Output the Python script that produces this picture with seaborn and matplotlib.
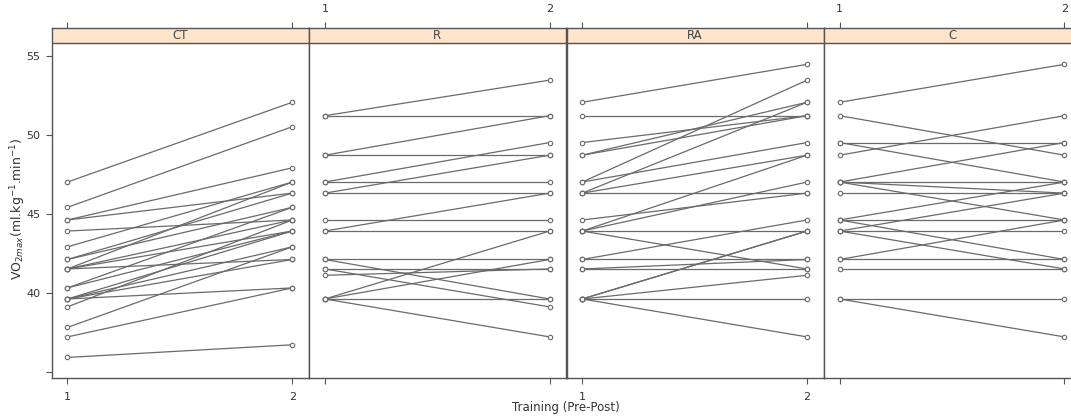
import numpy as np
import pandas as pd
import seaborn as sns
import matplotlib.pyplot as plt

# VO2max values, paired pre/post per subject
groups = ['CT', 'R', 'RA', 'C']

ct_pre = [47.0, 45.4, 44.6, 44.6, 43.9, 42.9, 42.1, 42.1, 41.5, 41.5, 41.5,
          41.5, 40.3, 40.3, 39.6, 39.6, 39.6, 39.6, 39.1, 37.8, 37.2, 35.9]
ct_post = [52.05, 50.5, 47.9, 46.3, 44.6, 47.0, 46.3, 45.4, 47.0, 44.6, 42.1,
           43.9, 45.4, 43.9, 43.9, 42.9, 42.1, 40.3, 44.6, 42.9, 40.3, 36.7]

r_pre = [51.2, 51.2, 48.7, 48.7, 47.0, 47.0, 46.3, 46.3, 44.6, 43.9, 43.9,
         42.1, 42.1, 41.5, 41.5, 41.1, 39.6, 39.6, 39.6, 39.6]
r_post = [53.45, 51.2, 51.2, 48.7, 49.5, 47.0, 48.7, 46.3, 44.6, 46.3, 43.9,
          42.1, 39.6, 41.5, 39.1, 41.5, 43.9, 42.1, 39.6, 37.2]

ra_pre = [52.05, 51.2, 49.5, 48.7, 48.7, 47.0, 47.0, 46.3, 46.3, 46.3, 44.6,
          43.9, 43.9, 43.9, 43.9, 42.1, 42.1, 41.5, 41.5, 39.6, 39.6, 39.6,
          39.6, 39.6]
ra_post = [54.45, 51.2, 51.2, 52.05, 51.2, 53.45, 49.5, 52.05, 48.7, 46.3,
           46.3, 48.7, 47.0, 43.9, 41.5, 44.6, 42.1, 42.1, 41.5, 43.9, 43.9,
           41.1, 39.6, 37.2]

c_pre = [52.05, 51.2, 49.5, 49.5, 48.7, 47.0, 47.0, 47.0, 47.0, 46.3, 44.6,
         44.6, 44.6, 43.9, 43.9, 43.9, 42.1, 42.1, 41.5, 39.6, 39.6]
c_post = [54.45, 48.7, 49.5, 47.0, 51.2, 49.5, 47.0, 46.3, 44.6, 46.3, 47.0,
          44.6, 42.1, 46.3, 43.9, 41.5, 44.6, 42.1, 41.5, 39.6, 37.2]

pairs = {'CT': (ct_pre, ct_post), 'R': (r_pre, r_post),
         'RA': (ra_pre, ra_post), 'C': (c_pre, c_post)}

rows = []
for g in groups:
    pre, post = pairs[g]
    for i, (a, b) in enumerate(zip(pre, post)):
        rows.append((g, f'{g}{i}', 1, a))
        rows.append((g, f'{g}{i}', 2, b))
df = pd.DataFrame(rows, columns=['group', 'subject', 'time', 'vo2'])

sns.set_style('white')
plt.rcParams['font.family'] = ['DejaVu Sans']

fig = plt.figure(figsize=(10.71, 4.18), dpi=100)

W, H = 1071, 418
panel_w = 257.4
left0 = 51.7
bottom_px = 378.3
top_px = 28.0
strip_lo, strip_hi = 55.8, 56.75
line_col = '#6a6a6a'
frame_col = '#555555'
txt_col = '#333333'

for k, g in enumerate(groups):
    l = (left0 + k * panel_w) / W
    ax = fig.add_axes([l, (H - bottom_px) / H, panel_w / W,
                       (bottom_px - top_px) / H])
    sns.lineplot(data=df[df['group'] == g], x='time', y='vo2', units='subject',
                 estimator=None, color=line_col, lw=0.9, marker='o', ms=3.2,
                 mfc='white', mec=line_col, mew=0.8, ax=ax, legend=False)
    ax.set_xlim(0.93, 2.075)
    ax.set_ylim(34.58, strip_hi)

    # strip on top of the panel
    ax.axhspan(strip_lo, strip_hi, color='#ffe5cc', zorder=0)
    ax.axhline(strip_lo, color=frame_col, lw=1.0)
    ax.text(1.5, (strip_lo + strip_hi) / 2, g, ha='center', va='center',
            fontsize=8.5, color='#444444')

    for s in ax.spines.values():
        s.set_color(frame_col)
        s.set_linewidth(1.0)

    ax.set_xticks([1, 2])
    ax.tick_params(axis='x', which='both', direction='out', length=4,
                   color=frame_col, labelsize=8, labelcolor=txt_col,
                   top=True, bottom=True, pad=6)
    # alternate tick labels between bottom and top, lattice style
    if k % 2 == 0:
        ax.tick_params(axis='x', labelbottom=True, labeltop=False)
    else:
        ax.tick_params(axis='x', labelbottom=False, labeltop=True)

    ax.set_yticks([35, 40, 45, 50, 55])
    if k == 0:
        ax.set_yticklabels(['', '40', '45', '50', '55'])
        ax.tick_params(axis='y', direction='out', length=4, color=frame_col,
                       labelsize=8, labelcolor=txt_col, left=True, pad=4)
    else:
        ax.tick_params(axis='y', left=False, labelleft=False)
    ax.set_xlabel('')
    ax.set_ylabel('')

fig.text(566 / W, 1 - 408 / H, 'Training (Pre-Post)', ha='center',
         va='center', fontsize=8.5, color=txt_col)
fig.text(18 / W, 0.5, r'VO$_{2max}$(ml.kg$^{-1}$.min$^{-1}$)', rotation=90,
         ha='center', va='center', fontsize=9, color=txt_col)

fig.savefig('out.png', dpi=100)
